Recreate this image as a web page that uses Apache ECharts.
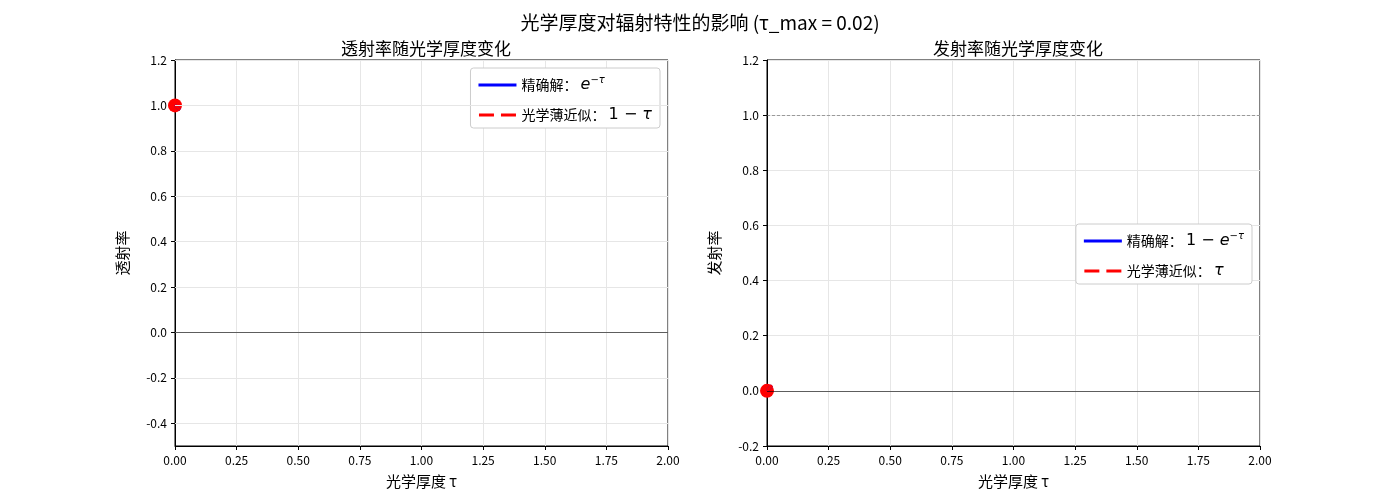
<!DOCTYPE html><html><head><meta charset="utf-8">
<script src="https://cdn.jsdelivr.net/npm/echarts@6/dist/echarts.min.js"></script>
<style>body{margin:0}#c{width:1400px;height:500px}</style></head><body><div id="c"></div>
<script>
const tau = [0, 0.005, 0.01, 0.015, 0.02];
const transExact = [1, 0.99501, 0.99005, 0.98511, 0.98020];
const transApprox = [1, 0.995, 0.99, 0.985, 0.98];
const emisExact = [0, 0.00499, 0.00995, 0.01489, 0.01980];
const emisApprox = [0, 0.005, 0.01, 0.015, 0.02];
const xTicks = [0, 0.25, 0.5, 0.75, 1, 1.25, 1.5, 1.75, 2];
const leftYTicks = [-0.4, -0.2, 0, 0.2, 0.4, 0.6, 0.8, 1.0, 1.2];

const F = 'Noto Sans CJK SC';
const pts = (xs, ys) => xs.map((x, i) => [x, ys[i]]);
const ch = echarts.init(document.getElementById('c'));
const grids = [{left:175,width:493,top:60,height:386},{left:767,width:493,top:60,height:386}];
function xAxis(i){return {type:'value',gridIndex:i,min:0,max:2,interval:0.25,name:'光学厚度 τ',nameLocation:'middle',nameGap:28,
 nameTextStyle:{fontSize:15,color:'#000',fontFamily:F},
 axisLine:{onZero:false,lineStyle:{color:'#000'}},axisTick:{show:true,length:4,lineStyle:{color:'#000'}},
 axisLabel:{color:'#000',fontSize:12,fontFamily:F,formatter:v=>v.toFixed(2)},
 splitLine:{show:true,lineStyle:{color:'#e6e6e6'}}};}
const rich = {n:{fontSize:14,fontFamily:F,color:'#000'},r:{fontSize:16,fontFamily:'DejaVu Sans',color:'#000'},
 m:{fontSize:16,fontStyle:'italic',fontFamily:'DejaVu Sans',color:'#000'},
 s:{fontSize:10,fontStyle:'italic',verticalAlign:'top',padding:[0,0,10,0],fontFamily:'DejaVu Sans',color:'#000'}};
const names = {'t1':'{n|精确解： }{m|e}{s|−τ}','t2':'{n|光学薄近似： }{r|1 − }{m|τ}','e1':'{n|精确解： }{r|1 − }{m|e}{s|−τ}','e2':'{n|光学薄近似： }{m|τ}'};
const solidIcon = 'rect';
const dashIcon = 'path://M0,0h15v3h-15z M22,0h15v3h-15z';
function legend(i,ids,pos){return Object.assign({gridIndex:i,
 data:[{name:ids[0],icon:solidIcon},{name:ids[1],icon:dashIcon}],orient:'vertical',backgroundColor:'#fff',borderColor:'#ccc',borderWidth:1,borderRadius:3,
 padding:[7,8,5,8],itemGap:14,itemWidth:38,itemHeight:3,formatter:n=>names[n],textStyle:{rich:rich}},pos);}
const grayLines = leftYTicks.map(v=>({yAxis:v}));
ch.setOption({
 animation:false,
 title:[{text:'光学厚度对辐射特性的影响 (τ_max = 0.02)',left:'center',top:8,textStyle:{fontSize:19,fontWeight:'normal',fontFamily:F,color:'#000'}},
  {text:'透射率随光学厚度变化',left:421,textAlign:'center',top:35,textStyle:{fontSize:17,fontWeight:'normal',fontFamily:F,color:'#000'}},
  {text:'发射率随光学厚度变化',left:1013,textAlign:'center',top:35,textStyle:{fontSize:17,fontWeight:'normal',fontFamily:F,color:'#000'}}],
 grid:grids.map(g=>Object.assign({show:true,borderColor:'#000',borderWidth:1,backgroundColor:'transparent'},g)),
 legend:[legend(0,['t1','t2'],{right:740,top:68}),legend(1,['e1','e2'],{right:148,top:224})],
 xAxis:[xAxis(0),xAxis(1)],
 yAxis:[{type:'value',gridIndex:0,min:-0.5,max:1.2,name:'透射率',nameLocation:'middle',nameGap:45,nameTextStyle:{fontSize:15,color:'#000',fontFamily:F},
   axisLine:{show:true,lineStyle:{color:'#000'}},axisTick:{show:true,length:4,customValues:leftYTicks,lineStyle:{color:'#000'}},
   axisLabel:{color:'#000',fontSize:12,fontFamily:F,customValues:leftYTicks,formatter:v=>v.toFixed(1)},splitLine:{show:false}},
  {type:'value',gridIndex:1,min:-0.2,max:1.2,interval:0.2,name:'发射率',nameLocation:'middle',nameGap:45,nameTextStyle:{fontSize:15,color:'#000',fontFamily:F},
   axisLine:{show:true,lineStyle:{color:'#000'}},axisTick:{show:true,length:4,lineStyle:{color:'#000'}},
   axisLabel:{color:'#000',fontSize:12,fontFamily:F,formatter:v=>v.toFixed(1)},splitLine:{show:true,lineStyle:{color:'#e6e6e6'}}}],
 series:[
  {type:'line',name:'grid',xAxisIndex:0,yAxisIndex:0,data:[],silent:true,markLine:{silent:true,symbol:'none',label:{show:false},lineStyle:{color:'#e6e6e6',type:'solid',width:1},data:grayLines}},
  {type:'line',name:'t1',xAxisIndex:0,yAxisIndex:0,data:pts(tau,transExact),symbol:'none',lineStyle:{color:'#0000ff',width:3},itemStyle:{color:'#0000ff'},
   markLine:{silent:true,symbol:'none',label:{show:false},lineStyle:{color:'#000',type:'solid',width:0.6},data:[{yAxis:0}]}},
  {type:'line',name:'t2',xAxisIndex:0,yAxisIndex:0,data:pts(tau,transApprox),symbol:'none',lineStyle:{color:'#ff0000',width:3,type:[8,5]},itemStyle:{color:'#ff0000'}},
  {type:'scatter',xAxisIndex:0,yAxisIndex:0,data:[[tau[0],transExact[0]]],symbolSize:14,clip:false,itemStyle:{color:'#ff0000',opacity:1}},
  {type:'line',name:'e1',xAxisIndex:1,yAxisIndex:1,data:pts(tau,emisExact),symbol:'none',lineStyle:{color:'#0000ff',width:3},itemStyle:{color:'#0000ff'},
   markLine:{silent:true,symbol:'none',label:{show:false},data:[{yAxis:0,lineStyle:{color:'#000',type:'solid',width:0.6}},{yAxis:1,lineStyle:{color:'#666',type:[3,2],width:0.6}}]}},
  {type:'line',name:'e2',xAxisIndex:1,yAxisIndex:1,data:pts(tau,emisApprox),symbol:'none',lineStyle:{color:'#ff0000',width:3,type:[8,5]},itemStyle:{color:'#ff0000'}},
  {type:'scatter',xAxisIndex:1,yAxisIndex:1,data:[[tau[0],emisExact[0]]],symbolSize:14,clip:false,itemStyle:{color:'#ff0000',opacity:1}}
 ]
});
</script></body></html>
